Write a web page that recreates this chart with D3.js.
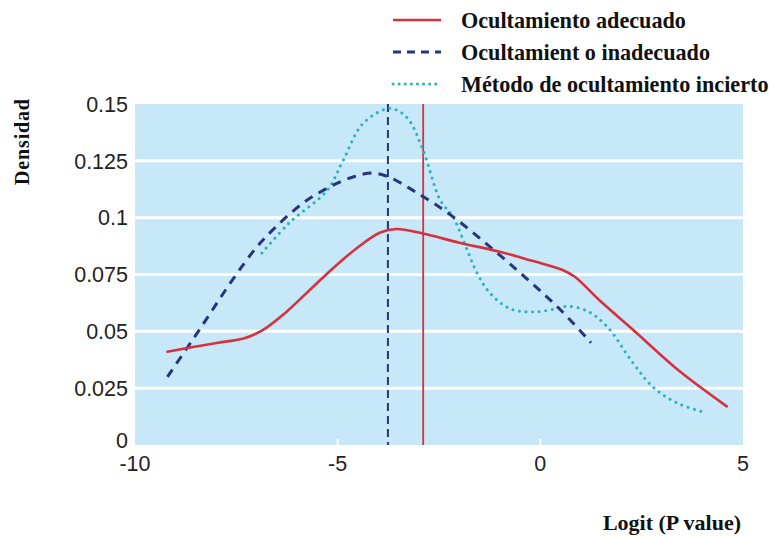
<!DOCTYPE html>
<html>
<head>
<meta charset="utf-8">
<script src="https://cdn.jsdelivr.net/npm/d3@7"></script>
<style>
  body { margin: 0; background: #fff; }
  svg { display: block; }
</style>
</head>
<body>
<div id="chart"></div>
<script>
(() => {
  const width = 769, height = 537;
  const margin = { top: 104, right: 26, bottom: 92, left: 135 };

  // datos (logit P, densidad)
  const adecuadoX = [-9.2, -8.6, -7.95, -7.3, -6.85, -6.3, -5.7, -5.1, -4.5, -3.95, -3.55, -2.9, -2.0, -1.0, -0.2, 0.55, 0.85, 1.5, 2.3, 3.4, 4.6];
  const adecuadoY = [0.041, 0.043, 0.045, 0.047, 0.0505, 0.058, 0.068, 0.078, 0.087, 0.0935, 0.095, 0.093, 0.089, 0.085, 0.081, 0.077, 0.074, 0.063, 0.0505, 0.033, 0.017];

  const inadecuadoX = [-9.2, -8.4, -7.6, -7.0, -6.55, -5.85, -5.2, -4.6, -4.15, -3.75, -3.05, -2.2, -1.0, -0.2, 0.5, 1.25];
  const inadecuadoY = [0.03, 0.051, 0.0725, 0.087, 0.0955, 0.1065, 0.1135, 0.118, 0.1196, 0.118, 0.111, 0.101, 0.0835, 0.071, 0.0594, 0.045];

  const inciertoX = [-6.87, -6.2, -5.26, -4.87, -4.37, -3.71, -3.29, -2.9, -2.47, -2.15, -1.9, -1.56, -1.24, -0.75, -0.18, 0.41, 0.66, 1.15, 1.65, 2.29, 2.78, 3.37, 4.02];
  const inciertoY = [0.0844, 0.0976, 0.112, 0.125, 0.1415, 0.148, 0.144, 0.13, 0.1077, 0.1003, 0.09, 0.0756, 0.0668, 0.06, 0.0585, 0.06, 0.061, 0.059, 0.052, 0.036, 0.0255, 0.0185, 0.0145];

  // líneas verticales (medianas)
  const medianaAdecuado = -2.89;
  const medianaInadecuado = -3.76;

  const xTicks = [-10, -5, 0, 5];
  const yTicks = [0, 0.025, 0.05, 0.075, 0.1, 0.125, 0.15];
  const yTickLabels = ["0", "0.025", "0.05", "0.075", "0.1", "0.125", "0.15"];

  const legendLabels = ["Ocultamiento adecuado", "Ocultamient o inadecuado", "Método de ocultamiento incierto"];

  const colRed = "#d8303c", colNavy = "#27357a", colCyan = "#2cb3c2";
  const serif = "Liberation Serif, Times New Roman, serif";
  const sans = "Liberation Sans, Arial, sans-serif";

  const svg = d3.select("#chart").append("svg")
    .attr("width", width)
    .attr("height", height);

  const x = d3.scaleLinear().domain([-10, 5]).range([margin.left, width - margin.right]);
  const y = d3.scaleLinear().domain([0, 0.15]).range([height - margin.bottom, margin.top]);

  // fondo del área
  svg.append("rect")
    .attr("x", x(-10)).attr("y", y(0.15))
    .attr("width", x(5) - x(-10)).attr("height", y(0) - y(0.15))
    .attr("fill", "#c7e8f8");

  // rejilla blanca
  svg.selectAll("line.grid")
    .data(yTicks.filter(d => d > 0 && d < 0.15))
    .join("line")
    .attr("class", "grid")
    .attr("x1", x(-10)).attr("x2", x(5))
    .attr("y1", d => y(d)).attr("y2", d => y(d))
    .attr("stroke", "#fff")
    .attr("stroke-width", 3);

  // pequeñas marcas del eje x
  svg.selectAll("line.xt")
    .data([-5, 0])
    .join("line")
    .attr("class", "xt")
    .attr("x1", d => x(d)).attr("x2", d => x(d))
    .attr("y1", y(0) - 6).attr("y2", y(0))
    .attr("stroke", "#fff")
    .attr("stroke-width", 2);

  // etiquetas eje y
  svg.selectAll("text.ytick")
    .data(yTicks)
    .join("text")
    .attr("class", "ytick")
    .attr("x", margin.left - 7)
    .attr("y", d => y(d) + (d === 0 ? -5 : 0))
    .attr("dy", "0.36em")
    .attr("text-anchor", "end")
    .attr("font-family", sans)
    .attr("font-size", 21.5)
    .attr("fill", "#222")
    .text((d, i) => yTickLabels[i]);

  // etiquetas eje x
  svg.selectAll("text.xtick")
    .data(xTicks)
    .join("text")
    .attr("class", "xtick")
    .attr("x", d => x(d))
    .attr("y", y(0) + 18)
    .attr("dy", "0.36em")
    .attr("text-anchor", "middle")
    .attr("font-family", sans)
    .attr("font-size", 21.5)
    .attr("fill", "#222")
    .text(d => d);

  // líneas verticales
  svg.append("line")
    .attr("x1", x(medianaInadecuado)).attr("x2", x(medianaInadecuado))
    .attr("y1", y(0.15)).attr("y2", y(0))
    .attr("stroke", colNavy)
    .attr("stroke-width", 2)
    .attr("stroke-dasharray", "8,5");

  svg.append("line")
    .attr("x1", x(medianaAdecuado)).attr("x2", x(medianaAdecuado))
    .attr("y1", y(0.15)).attr("y2", y(0))
    .attr("stroke", colRed)
    .attr("stroke-width", 1.8);

  const line = d3.line()
    .x(d => x(d[0]))
    .y(d => y(d[1]))
    .curve(d3.curveCatmullRom.alpha(0.5));

  const series = [
    { xs: inciertoX, ys: inciertoY, color: colCyan, width: 3, dash: "0.1,6.5", cap: "round" },
    { xs: inadecuadoX, ys: inadecuadoY, color: colNavy, width: 3, dash: "9,7", cap: "butt" },
    { xs: adecuadoX, ys: adecuadoY, color: colRed, width: 2.6, dash: null, cap: "round" }
  ];

  series.forEach(s => {
    svg.append("path")
      .datum(d3.zip(s.xs, s.ys))
      .attr("d", line)
      .attr("fill", "none")
      .attr("stroke", s.color)
      .attr("stroke-width", s.width)
      .attr("stroke-linecap", s.cap)
      .attr("stroke-dasharray", s.dash);
  });

  // leyenda
  const legendStyles = [
    { color: colRed, width: 2.6, dash: null, cap: "butt" },
    { color: colNavy, width: 3, dash: "8,6", cap: "butt" },
    { color: colCyan, width: 3, dash: "0.1,6", cap: "round" }
  ];

  const legend = svg.append("g").attr("transform", "translate(393,20)");
  legendLabels.forEach((label, i) => {
    const g = legend.append("g").attr("transform", `translate(0,${i * 32})`);
    g.append("line")
      .attr("x1", 0).attr("x2", 48)
      .attr("stroke", legendStyles[i].color)
      .attr("stroke-width", legendStyles[i].width)
      .attr("stroke-linecap", legendStyles[i].cap)
      .attr("stroke-dasharray", legendStyles[i].dash);
    g.append("text")
      .attr("x", 68)
      .attr("dy", "0.35em")
      .attr("font-family", serif)
      .attr("font-weight", "bold")
      .attr("font-size", 22.2)
      .attr("fill", "#111")
      .text(label);
  });

  // títulos de ejes
  svg.append("text")
    .attr("transform", "translate(29,142) rotate(-90)")
    .attr("text-anchor", "middle")
    .attr("font-family", serif)
    .attr("font-weight", "bold")
    .attr("font-size", 20)
    .attr("textLength", 86)
    .attr("lengthAdjust", "spacing")
    .attr("fill", "#111")
    .text("Densidad");

  svg.append("text")
    .attr("x", 741)
    .attr("y", 530)
    .attr("text-anchor", "end")
    .attr("font-family", serif)
    .attr("font-weight", "bold")
    .attr("font-size", 22)
    .attr("fill", "#111")
    .text("Logit (P value)");
})();
</script>
</body>
</html>
